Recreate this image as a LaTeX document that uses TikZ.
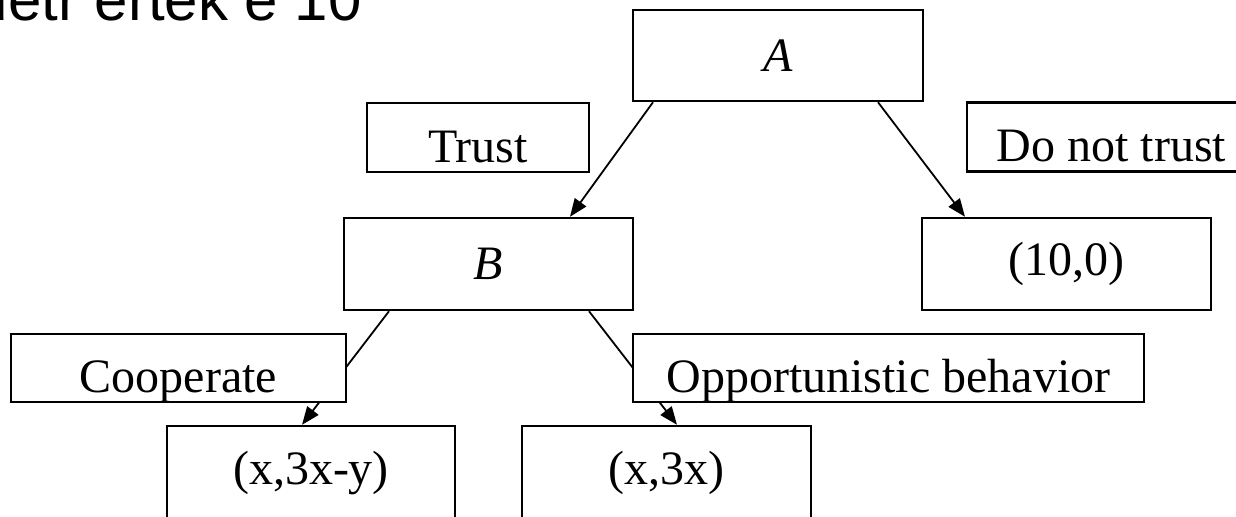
\documentclass[tikz,border=0pt]{standalone}
\usepackage{fontspec}
\setmainfont{Liberation Serif}
\newfontfamily\slidefont{Liberation Sans}
\usetikzlibrary{arrows.meta}

\begin{document}
\begin{tikzpicture}[
        x=0.5pt, y=-0.5pt,
        gamenode/.style={rectangle, draw, line width=1.2pt, fill=white, inner sep=0pt, font=\fontsize{24}{28}\selectfont},
        movelabel/.style={gamenode, minimum height=34.5pt, text height=28.5pt, text depth=4pt},
        arrow/.style={-{Triangle[length=9pt, width=7pt]}, line width=0.9pt}
    ]
        \useasboundingbox (0,0) rectangle (1236,516);
        \clip (0,0) rectangle (1236,516);

        % slide heading, cut off at the top
        \node[anchor=base east, inner sep=0pt, font=\slidefont\fontsize{30}{36}\selectfont] (title) at (362,20) {detr értek e 10};

        % players and payoffs
        \node[gamenode, minimum width=145pt, minimum height=45.5pt] (a) at (778,55.5) {\textit{A}};
        \node[gamenode, minimum width=144.5pt, minimum height=46pt] (b) at (488.5,264) {\textit{B}};
        \node[gamenode, minimum width=144.5pt, minimum height=46pt] (ten) at (1066.5,264) {(10,0)};
        \node[gamenode, minimum width=144pt, minimum height=47pt] (coop pay) at (311,473) {(x,3x-y)};
        \node[gamenode, minimum width=144.5pt, minimum height=47pt] (opp pay) at (666.5,473) {(x,3x)};

        \draw[arrow] ([xshift=-62.5pt]a.south) -- ([xshift=40.75pt]b.north);
        \draw[arrow] ([xshift=50pt]a.south) -- ([xshift=-50.75pt]ten.north);
        \draw[arrow] ([xshift=-49.75pt]b.south) -- ([xshift=-4.5pt]coop pay.north);
        \draw[arrow] ([xshift=50.25pt]b.south) -- ([xshift=5.25pt]opp pay.north);

        % move labels sit on top of the branches
        \node[movelabel, minimum width=111pt] (trust) at (478,137.5) {Trust};
        \node[movelabel, minimum width=144.5pt] (distrust) at (1111.5,137) {Do not trust};
        \node[movelabel, minimum width=167.5pt, minimum height=34pt] (coop) at (178.5,368) {Cooperate};
        \node[movelabel, minimum width=255.5pt, minimum height=34pt] (opp) at (888.5,368) {Opportunistic behavior};
    \end{tikzpicture}
\end{document}
